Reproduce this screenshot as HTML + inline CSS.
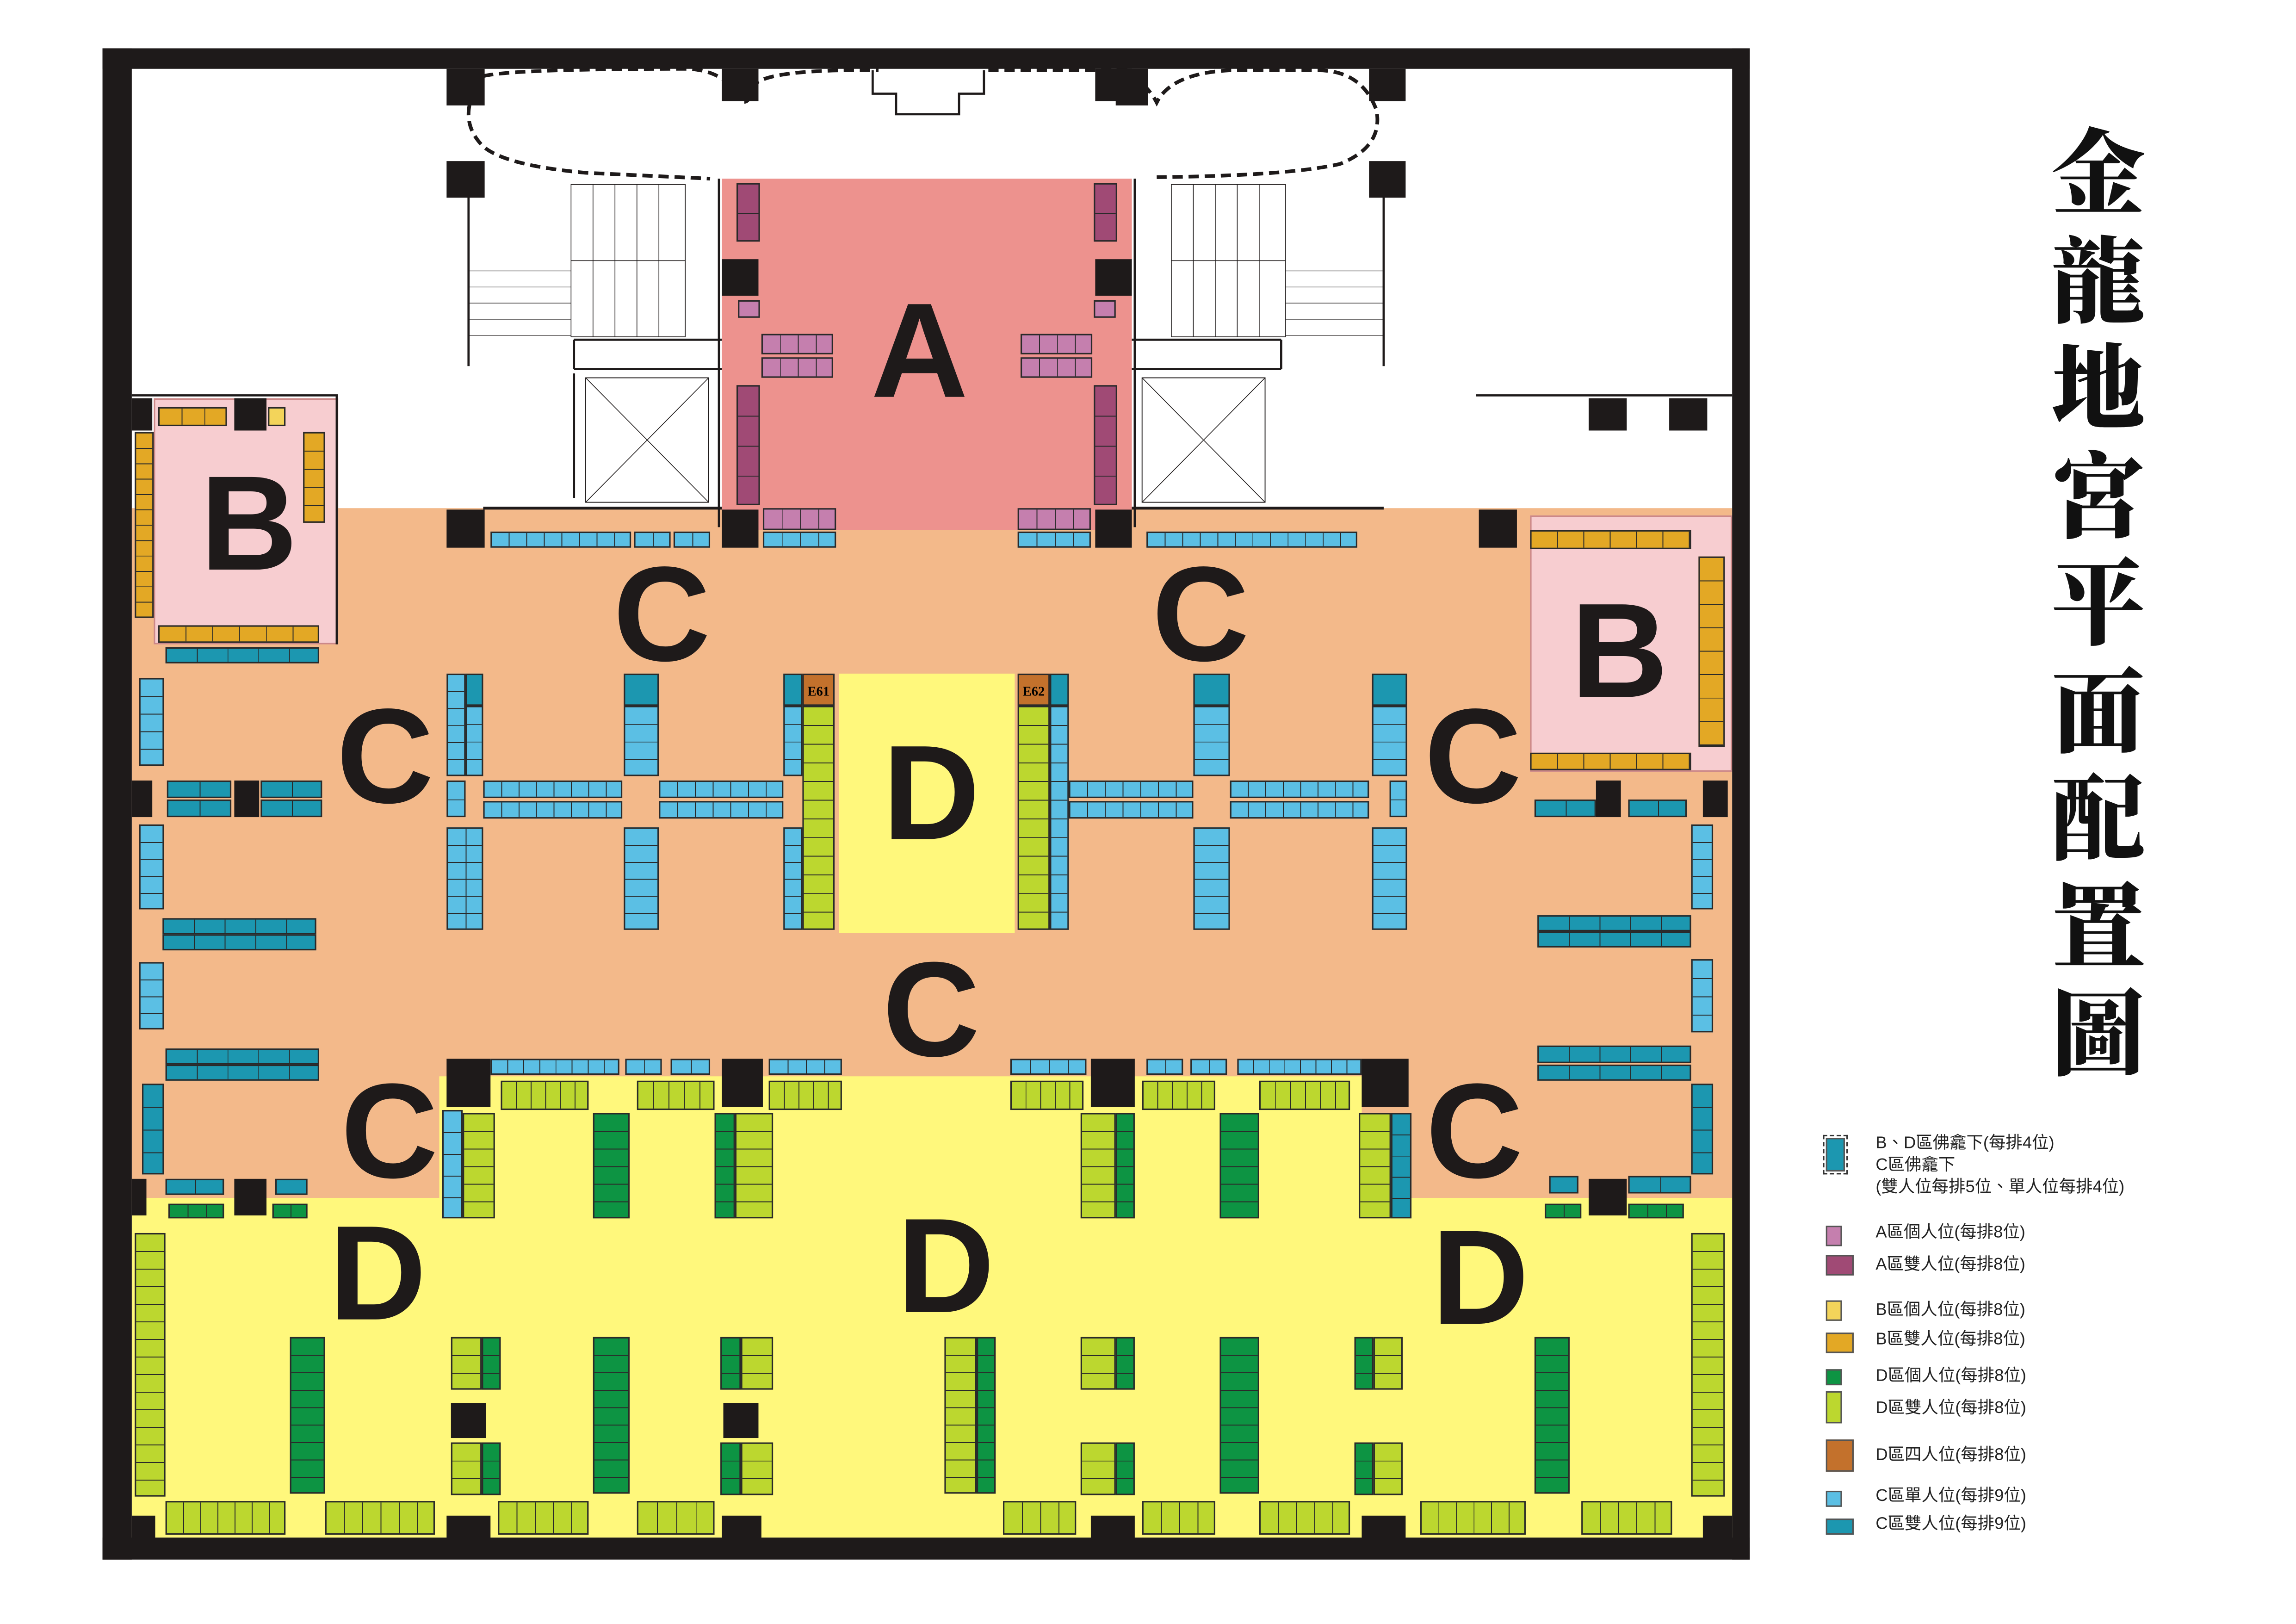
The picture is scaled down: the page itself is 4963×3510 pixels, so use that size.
<!DOCTYPE html>
<html><head><meta charset="utf-8">
<style>
html,body{margin:0;padding:0;background:#fff}
#w{position:relative;width:1568px;height:1109px;transform:scale(3.165);transform-origin:0 0;overflow:hidden;font-family:"Liberation Sans","Noto Sans CJK TC",sans-serif}
#w div,#w i{position:absolute;box-sizing:border-box}
.k{border:0.6px solid #2a2a2a}
.h{background-image:repeating-linear-gradient(90deg,transparent 0 calc(var(--s) - .6px),#2a2a2a calc(var(--s) - .6px) var(--s))}
.v{background-image:repeating-linear-gradient(180deg,transparent 0 calc(var(--s) - .6px),#2a2a2a calc(var(--s) - .6px) var(--s))}
.lb{background-color:#5bbfe4}.tl{background-color:#1c97b0}.pu{background-color:#a04a75}.mv{background-color:#c57fae}
.go{background-color:#e3a825}.yg{background-color:#f3d45a}.gr{background-color:#0d9443}.li{background-color:#bcd72f}.br{background-color:#c3712c}
.p{background:#1e1a1a}
.L{font-weight:bold;color:#1e1a1a;font-size:92px;line-height:1;transform:translate(-50%,-50%)}
.lg{font-size:11.5px;color:#222;white-space:nowrap;line-height:1.2}
.sw{border:0.6px solid #555}
</style></head><body><div id="w">
<!-- zones -->
<div style="left:90px;top:347px;width:1093px;height:390px;background:#f3b98a"></div>
<div style="left:90px;top:730px;width:212px;height:90px;background:#f3b98a"></div>
<div style="left:930px;top:730px;width:253px;height:90px;background:#f3b98a"></div>
<div style="left:300px;top:735px;width:630px;height:90px;background:#fff87c"></div>
<div style="left:90px;top:818px;width:1093px;height:232px;background:#fff87c"></div>
<div style="left:573px;top:460px;width:120px;height:177px;background:#fff87c"></div>
<div style="left:493px;top:122px;width:280px;height:240px;background:#ed928e"></div>
<div style="left:105px;top:272px;width:126px;height:168px;background:#f7cdd0;border:0.6px solid #c88"></div>
<div style="left:1045px;top:352px;width:138px;height:175px;background:#f7cdd0;border:0.6px solid #c88"></div>
<!-- frame -->
<div style="left:70px;top:33px;width:1125px;height:14px;background:#1e1a1a"></div>
<div style="left:70px;top:33px;width:20px;height:1032px;background:#1e1a1a"></div>
<div style="left:1183px;top:33px;width:12px;height:1032px;background:#1e1a1a"></div>
<div style="left:70px;top:1050px;width:1125px;height:15px;background:#1e1a1a"></div>
<!-- top structure -->
<svg style="position:absolute;left:0;top:0" width="1568" height="1109">
<path d="M330 52 Q310 80 330 100 Q345 113 400 118 L485 122 M330 52 Q350 47 470 47 Q490 48 500 60 Q510 80 515 58 Q525 47 600 48 M675 48 L770 48 Q785 60 790 70 Q800 50 840 48 L900 48 Q930 48 940 75 Q945 100 915 112 Q880 120 790 121" fill="none" stroke="#1e1a1a" stroke-width="2.5" stroke-dasharray="7 4"/>
<path d="M596 48 L596 64 L612 64 L612 78 L655 78 L655 64 L672 64 L672 48" fill="none" stroke="#1e1a1a" stroke-width="1.5"/>
<g stroke="#1e1a1a" fill="none">
<rect x="390" y="126" width="78" height="104" stroke-width="0.5"/>
<path d="M405 126V230M420 126V230M435 126V230M450 126V230M390 178H468" stroke-width="0.5"/>
<rect x="800" y="126" width="78" height="104" stroke-width="0.5"/>
<path d="M815 126V230M830 126V230M845 126V230M860 126V230M800 178H878" stroke-width="0.5"/>
<path d="M320 185H390M320 196H390M320 207H390M320 218H390M320 229H390" stroke-width="0.4"/>
<path d="M878 185H945M878 196H945M878 207H945M878 218H945M878 229H945" stroke-width="0.4"/>
<path d="M320 130V250M945 130V250" stroke-width="1.5"/>
<path d="M392 232H493M392 252H493M392 232V252M392 255V340" stroke-width="1.5"/>
<path d="M773 232H875M773 252H875M875 232V252" stroke-width="1.5"/>
<rect x="400" y="258" width="84" height="85" stroke-width="0.6"/><path d="M400 258L484 343M484 258L400 343" stroke-width="0.5"/>
<rect x="780" y="258" width="84" height="85" stroke-width="0.6"/><path d="M780 258L864 343M864 258L780 343" stroke-width="0.5"/>
<path d="M330 347H493M773 347H945" stroke-width="2"/>
<path d="M90 270H230V440" stroke-width="1.5"/>
<path d="M1008 270H1183" stroke-width="1.5"/>
<path d="M491 122V360M775 122V360" stroke-width="1.5"/>
</g>
</svg>
<!-- pillars -->
<i class="p" style="left:305px;top:47px;width:26px;height:25px"></i><i class="p" style="left:305px;top:110px;width:26px;height:25px"></i>
<i class="p" style="left:493px;top:47px;width:25px;height:22px"></i><i class="p" style="left:748px;top:47px;width:25px;height:22px"></i>
<i class="p" style="left:935px;top:47px;width:25px;height:22px"></i><i class="p" style="left:935px;top:110px;width:25px;height:25px"></i>
<i class="p" style="left:762px;top:47px;width:22px;height:25px"></i>
<i class="p" style="left:493px;top:177px;width:25px;height:25px"></i><i class="p" style="left:748px;top:177px;width:25px;height:25px"></i>
<i class="p" style="left:90px;top:272px;width:14px;height:22px"></i><i class="p" style="left:160px;top:272px;width:22px;height:22px"></i>
<i class="p" style="left:1085px;top:272px;width:26px;height:22px"></i><i class="p" style="left:1140px;top:272px;width:26px;height:22px"></i>
<i class="p" style="left:305px;top:348px;width:26px;height:26px"></i><i class="p" style="left:493px;top:348px;width:25px;height:26px"></i>
<i class="p" style="left:748px;top:348px;width:25px;height:26px"></i><i class="p" style="left:1010px;top:348px;width:26px;height:26px"></i>
<i class="p" style="left:90px;top:533px;width:14px;height:25px"></i><i class="p" style="left:160px;top:533px;width:17px;height:25px"></i>
<i class="p" style="left:1090px;top:533px;width:17px;height:25px"></i><i class="p" style="left:1163px;top:533px;width:17px;height:25px"></i>
<i class="p" style="left:305px;top:723px;width:30px;height:33px"></i><i class="p" style="left:493px;top:723px;width:28px;height:33px"></i>
<i class="p" style="left:745px;top:723px;width:30px;height:33px"></i><i class="p" style="left:930px;top:723px;width:32px;height:33px"></i>
<i class="p" style="left:160px;top:805px;width:22px;height:25px"></i><i class="p" style="left:1085px;top:805px;width:26px;height:25px"></i>
<i class="p" style="left:90px;top:805px;width:10px;height:25px"></i>
<i class="p" style="left:308px;top:958px;width:24px;height:24px"></i><i class="p" style="left:494px;top:958px;width:24px;height:24px"></i>
<i class="p" style="left:305px;top:1035px;width:30px;height:16px"></i><i class="p" style="left:493px;top:1035px;width:27px;height:16px"></i>
<i class="p" style="left:745px;top:1035px;width:30px;height:16px"></i><i class="p" style="left:930px;top:1035px;width:30px;height:16px"></i>
<i class="p" style="left:90px;top:1035px;width:16px;height:16px"></i><i class="p" style="left:1163px;top:1035px;width:20px;height:16px"></i>

<!-- A area -->
<i class="k v pu" style="left:503px;top:125px;width:16px;height:40px;--s:20px"></i>
<i class="k v pu" style="left:503px;top:263px;width:16px;height:82px;--s:20.5px"></i>
<i class="k v pu" style="left:747px;top:125px;width:16px;height:40px;--s:20px"></i>
<i class="k v pu" style="left:747px;top:263px;width:16px;height:82px;--s:20.5px"></i>
<i class="k mv" style="left:504px;top:205px;width:15px;height:12px"></i><i class="k mv" style="left:747px;top:205px;width:15px;height:12px"></i>
<i class="k h mv" style="left:520px;top:228px;width:49px;height:14px;--s:12.25px"></i><i class="k h mv" style="left:520px;top:244px;width:49px;height:14px;--s:12.25px"></i>
<i class="k h mv" style="left:697px;top:228px;width:49px;height:14px;--s:12.25px"></i><i class="k h mv" style="left:697px;top:244px;width:49px;height:14px;--s:12.25px"></i>
<i class="k h mv" style="left:521px;top:347px;width:50px;height:15px;--s:12.5px"></i><i class="k h lb" style="left:521px;top:363px;width:50px;height:11px;--s:12.5px"></i>
<i class="k h mv" style="left:695px;top:347px;width:50px;height:15px;--s:12.5px"></i><i class="k h lb" style="left:695px;top:363px;width:50px;height:11px;--s:12.5px"></i>
<i class="k h lb" style="left:335px;top:363px;width:96px;height:11px;--s:12px"></i><i class="k h lb" style="left:433px;top:363px;width:25px;height:11px;--s:12.5px"></i><i class="k h lb" style="left:460px;top:363px;width:25px;height:11px;--s:12.5px"></i>
<i class="k h lb" style="left:783px;top:363px;width:144px;height:11px;--s:12px"></i>
<!-- B left -->
<i class="k h go" style="left:108px;top:278px;width:47px;height:13px;--s:15.6px"></i><i class="k yg" style="left:183px;top:278px;width:12px;height:13px"></i>
<i class="k v go" style="left:92px;top:295px;width:13px;height:127px;--s:10.5px"></i>
<i class="k v go" style="left:207px;top:295px;width:15px;height:62px;--s:12.4px"></i>
<i class="k h go" style="left:108px;top:427px;width:110px;height:12px;--s:18.3px"></i>
<i class="k h tl" style="left:113px;top:442px;width:105px;height:11px;--s:21px"></i>
<!-- B right -->
<i class="k h go" style="left:1045px;top:362px;width:110px;height:13px;--s:18px"></i>
<i class="k v go" style="left:1160px;top:380px;width:18px;height:130px;--s:16px"></i>
<i class="k h go" style="left:1045px;top:514px;width:110px;height:12px;--s:18px"></i>
<!-- C left side -->
<i class="k v lb" style="left:95px;top:463px;width:17px;height:60px;--s:12px"></i>
<i class="k h tl" style="left:114px;top:533px;width:44px;height:12px;--s:22px"></i><i class="k h tl" style="left:114px;top:546px;width:44px;height:12px;--s:22px"></i>
<i class="k h tl" style="left:178px;top:533px;width:42px;height:12px;--s:21px"></i><i class="k h tl" style="left:178px;top:546px;width:42px;height:12px;--s:21px"></i>
<i class="k v lb" style="left:95px;top:563px;width:17px;height:58px;--s:11.6px"></i>
<i class="k h tl" style="left:111px;top:627px;width:105px;height:11px;--s:21px"></i><i class="k h tl" style="left:111px;top:638px;width:105px;height:11px;--s:21px"></i>
<i class="k v lb" style="left:95px;top:657px;width:17px;height:46px;--s:11.5px"></i>
<i class="k h tl" style="left:113px;top:716px;width:105px;height:11px;--s:21px"></i><i class="k h tl" style="left:113px;top:727px;width:105px;height:11px;--s:21px"></i>
<i class="k v tl" style="left:97px;top:740px;width:15px;height:62px;--s:15.5px"></i>
<i class="k h tl" style="left:113px;top:805px;width:40px;height:11px;--s:20px"></i><i class="k tl" style="left:188px;top:805px;width:22px;height:11px"></i>
<i class="k h gr" style="left:115px;top:822px;width:38px;height:10px;--s:12.7px"></i><i class="k h gr" style="left:186px;top:822px;width:24px;height:10px;--s:12px"></i>
<!-- C right side -->
<i class="k h tl" style="left:1048px;top:546px;width:42px;height:12px;--s:21px"></i><i class="k h tl" style="left:1112px;top:546px;width:40px;height:12px;--s:20px"></i>
<i class="k v lb" style="left:1155px;top:563px;width:15px;height:58px;--s:11.6px"></i>
<i class="k h tl" style="left:1050px;top:625px;width:105px;height:11px;--s:21px"></i><i class="k h tl" style="left:1050px;top:636px;width:105px;height:11px;--s:21px"></i>
<i class="k v lb" style="left:1155px;top:655px;width:15px;height:50px;--s:12.5px"></i>
<i class="k h tl" style="left:1050px;top:714px;width:105px;height:12px;--s:21px"></i><i class="k h tl" style="left:1050px;top:727px;width:105px;height:11px;--s:21px"></i>
<i class="k v tl" style="left:1155px;top:740px;width:15px;height:62px;--s:15.5px"></i>
<i class="k tl" style="left:1058px;top:803px;width:20px;height:12px"></i><i class="k h tl" style="left:1112px;top:803px;width:43px;height:12px;--s:21.5px"></i>
<i class="k h gr" style="left:1055px;top:822px;width:25px;height:10px;--s:12.5px"></i><i class="k h gr" style="left:1112px;top:822px;width:38px;height:10px;--s:12.7px"></i>
<!-- C middle columns -->
<i class="k v lb" style="left:305px;top:460px;width:13px;height:70px;--s:11.6px"></i><i class="k tl" style="left:318px;top:460px;width:12px;height:22px"></i><i class="k v lb" style="left:318px;top:482px;width:12px;height:48px;--s:12px"></i>
<i class="k v lb" style="left:305px;top:533px;width:13px;height:25px;--s:12.5px"></i>
<i class="k h lb" style="left:330px;top:533px;width:95px;height:12px;--s:11.9px"></i><i class="k h lb" style="left:330px;top:547px;width:95px;height:12px;--s:11.9px"></i>
<i class="k v lb" style="left:305px;top:565px;width:25px;height:70px;--s:11.6px;background-image:repeating-linear-gradient(180deg,transparent 0 11px,#2a2a2a 11px 11.6px),linear-gradient(90deg,transparent 12px,#2a2a2a 12px 12.6px,transparent 12.6px)"></i>
<i class="k tl" style="left:426px;top:460px;width:24px;height:22px"></i><i class="k v lb" style="left:426px;top:482px;width:24px;height:48px;--s:12px"></i>
<i class="k v lb" style="left:426px;top:565px;width:24px;height:70px;--s:11.6px"></i>
<i class="k h lb" style="left:450px;top:533px;width:85px;height:12px;--s:12.1px"></i><i class="k h lb" style="left:450px;top:547px;width:85px;height:12px;--s:12.1px"></i>
<i class="k tl" style="left:535px;top:460px;width:13px;height:22px"></i><i class="k v lb" style="left:535px;top:482px;width:13px;height:48px;--s:12px"></i>
<i class="k br" style="left:548px;top:460px;width:22px;height:22px;font:bold 9px 'Liberation Serif',serif;text-align:center;line-height:22px">E61</i>
<i class="k v li" style="left:548px;top:482px;width:22px;height:153px;--s:12.75px"></i>
<i class="k v lb" style="left:535px;top:565px;width:13px;height:70px;--s:11.6px"></i>
<i class="k br" style="left:695px;top:460px;width:22px;height:22px;font:bold 9px 'Liberation Serif',serif;text-align:center;line-height:22px">E62</i>
<i class="k v li" style="left:695px;top:482px;width:22px;height:153px;--s:12.75px"></i>
<i class="k tl" style="left:717px;top:460px;width:13px;height:22px"></i><i class="k v lb" style="left:717px;top:482px;width:13px;height:153px;--s:12.75px"></i>
<i class="k h lb" style="left:730px;top:533px;width:85px;height:12px;--s:12.1px"></i><i class="k h lb" style="left:730px;top:547px;width:85px;height:12px;--s:12.1px"></i>
<i class="k tl" style="left:815px;top:460px;width:25px;height:22px"></i><i class="k v lb" style="left:815px;top:482px;width:25px;height:48px;--s:12px"></i>
<i class="k v lb" style="left:815px;top:565px;width:25px;height:70px;--s:11.6px"></i>
<i class="k h lb" style="left:840px;top:533px;width:95px;height:12px;--s:11.9px"></i><i class="k h lb" style="left:840px;top:547px;width:95px;height:12px;--s:11.9px"></i>
<i class="k tl" style="left:937px;top:460px;width:24px;height:22px"></i><i class="k v lb" style="left:937px;top:482px;width:24px;height:48px;--s:12px"></i>
<i class="k v lb" style="left:949px;top:533px;width:12px;height:25px;--s:12.5px"></i>
<i class="k v lb" style="left:937px;top:565px;width:24px;height:70px;--s:11.6px"></i>
<!-- row at 723 -->
<i class="k h lb" style="left:335px;top:723px;width:88px;height:11px;--s:11px"></i><i class="k h lb" style="left:427px;top:723px;width:25px;height:11px;--s:12.5px"></i><i class="k h lb" style="left:458px;top:723px;width:27px;height:11px;--s:13.5px"></i>
<i class="k h lb" style="left:525px;top:723px;width:50px;height:11px;--s:12.5px"></i>
<i class="k h lb" style="left:690px;top:723px;width:52px;height:11px;--s:13px"></i>
<i class="k h lb" style="left:783px;top:723px;width:25px;height:11px;--s:12.5px"></i><i class="k h lb" style="left:813px;top:723px;width:25px;height:11px;--s:12.5px"></i>
<i class="k h lb" style="left:845px;top:723px;width:85px;height:11px;--s:10.6px"></i>
<!-- D upper -->
<i class="k h li" style="left:342px;top:738px;width:60px;height:20px;--s:10px"></i>
<i class="k h li" style="left:435px;top:738px;width:53px;height:20px;--s:10.6px"></i>
<i class="k h li" style="left:525px;top:738px;width:50px;height:20px;--s:10px"></i>
<i class="k h li" style="left:690px;top:738px;width:50px;height:20px;--s:10px"></i>
<i class="k h li" style="left:780px;top:738px;width:50px;height:20px;--s:10px"></i>
<i class="k h li" style="left:860px;top:738px;width:62px;height:20px;--s:10.3px"></i>
<i class="k v lb" style="left:302px;top:758px;width:14px;height:74px;--s:14.8px"></i>
<i class="k v li" style="left:316px;top:760px;width:22px;height:72px;--s:12px"></i>
<i class="k v gr" style="left:405px;top:760px;width:25px;height:72px;--s:12px"></i>
<i class="k v gr" style="left:488px;top:760px;width:14px;height:72px;--s:12px"></i><i class="k v li" style="left:502px;top:760px;width:26px;height:72px;--s:12px"></i>
<i class="k v li" style="left:738px;top:760px;width:24px;height:72px;--s:12px"></i><i class="k v gr" style="left:762px;top:760px;width:13px;height:72px;--s:12px"></i>
<i class="k v gr" style="left:833px;top:760px;width:27px;height:72px;--s:12px"></i>
<i class="k v li" style="left:928px;top:760px;width:22px;height:72px;--s:12px"></i><i class="k v tl" style="left:950px;top:760px;width:14px;height:72px;--s:14.4px"></i>
<!-- D bottom -->
<i class="k v li" style="left:92px;top:842px;width:21px;height:180px;--s:12px"></i>
<i class="k v li" style="left:1155px;top:842px;width:23px;height:180px;--s:12px"></i>
<i class="k v gr" style="left:198px;top:913px;width:24px;height:107px;--s:11.9px"></i>
<i class="k v li" style="left:308px;top:913px;width:21px;height:36px;--s:12px"></i><i class="k v gr" style="left:329px;top:913px;width:13px;height:36px;--s:12px"></i>
<i class="k v li" style="left:308px;top:985px;width:21px;height:36px;--s:12px"></i><i class="k v gr" style="left:329px;top:985px;width:13px;height:36px;--s:12px"></i>
<i class="k v gr" style="left:405px;top:913px;width:25px;height:107px;--s:11.9px"></i>
<i class="k v gr" style="left:492px;top:913px;width:14px;height:36px;--s:12px"></i><i class="k v li" style="left:506px;top:913px;width:22px;height:36px;--s:12px"></i>
<i class="k v gr" style="left:492px;top:985px;width:14px;height:36px;--s:12px"></i><i class="k v li" style="left:506px;top:985px;width:22px;height:36px;--s:12px"></i>
<i class="k v li" style="left:645px;top:913px;width:22px;height:107px;--s:11.9px"></i><i class="k v gr" style="left:667px;top:913px;width:13px;height:107px;--s:11.9px"></i>
<i class="k v li" style="left:738px;top:913px;width:24px;height:36px;--s:12px"></i><i class="k v gr" style="left:762px;top:913px;width:13px;height:36px;--s:12px"></i>
<i class="k v li" style="left:738px;top:985px;width:24px;height:36px;--s:12px"></i><i class="k v gr" style="left:762px;top:985px;width:13px;height:36px;--s:12px"></i>
<i class="k v gr" style="left:833px;top:913px;width:27px;height:107px;--s:11.9px"></i>
<i class="k v gr" style="left:925px;top:913px;width:13px;height:36px;--s:12px"></i><i class="k v li" style="left:938px;top:913px;width:20px;height:36px;--s:12px"></i>
<i class="k v gr" style="left:925px;top:985px;width:13px;height:36px;--s:12px"></i><i class="k v li" style="left:938px;top:985px;width:20px;height:36px;--s:12px"></i>
<i class="k v gr" style="left:1048px;top:913px;width:24px;height:107px;--s:11.9px"></i>
<i class="k h li" style="left:113px;top:1025px;width:82px;height:23px;--s:11.7px"></i>
<i class="k h li" style="left:222px;top:1025px;width:75px;height:23px;--s:12.5px"></i>
<i class="k h li" style="left:340px;top:1025px;width:62px;height:23px;--s:12.4px"></i>
<i class="k h li" style="left:435px;top:1025px;width:53px;height:23px;--s:13.25px"></i>
<i class="k h li" style="left:685px;top:1025px;width:50px;height:23px;--s:12.5px"></i>
<i class="k h li" style="left:780px;top:1025px;width:50px;height:23px;--s:12.5px"></i>
<i class="k h li" style="left:860px;top:1025px;width:62px;height:23px;--s:12.4px"></i>
<i class="k h li" style="left:970px;top:1025px;width:72px;height:23px;--s:12px"></i>
<i class="k h li" style="left:1080px;top:1025px;width:62px;height:23px;--s:12.4px"></i>
<!-- letters -->
<div class="L" style="left:628px;top:240px">A</div>
<div class="L" style="left:170px;top:358px">B</div>
<div class="L" style="left:1106px;top:445px">B</div>
<div class="L" style="left:452px;top:420px">C</div>
<div class="L" style="left:820px;top:420px">C</div>
<div class="L" style="left:263px;top:517px">C</div>
<div class="L" style="left:1006px;top:517px">C</div>
<div class="L" style="left:636px;top:690px">C</div>
<div class="L" style="left:266px;top:773px">C</div>
<div class="L" style="left:1007px;top:773px">C</div>
<div class="L" style="left:636px;top:542px">D</div>
<div class="L" style="left:258px;top:870px">D</div>
<div class="L" style="left:646px;top:865px">D</div>
<div class="L" style="left:1011px;top:873px">D</div>
<!-- title -->
<div style="left:1398px;top:78px;width:70px;font-family:'Noto Serif CJK SC','Noto Sans CJK TC',serif;font-weight:900;font-size:64px;line-height:73.5px;text-align:center;color:#111">金<br>龍<br>地<br>宮<br>平<br>面<br>配<br>置<br>圖</div>
<!-- legend -->
<i class="sw tl" style="left:1247px;top:777px;width:13px;height:23px;outline:0.6px dashed #333;outline-offset:1px"></i>
<div class="lg" style="left:1281px;top:775px">B、D區佛龕下(每排4位)</div>
<div class="lg" style="left:1281px;top:790px">C區佛龕下</div>
<div class="lg" style="left:1281px;top:805px">(雙人位每排5位、單人位每排4位)</div>
<i class="sw mv" style="left:1247px;top:837px;width:11px;height:14px"></i><div class="lg" style="left:1281px;top:836px">A區個人位(每排8位)</div>
<i class="sw pu" style="left:1247px;top:857px;width:19px;height:14px"></i><div class="lg" style="left:1281px;top:858px">A區雙人位(每排8位)</div>
<i class="sw yg" style="left:1247px;top:888px;width:11px;height:14px"></i><div class="lg" style="left:1281px;top:889px">B區個人位(每排8位)</div>
<i class="sw go" style="left:1247px;top:910px;width:19px;height:14px"></i><div class="lg" style="left:1281px;top:909px">B區雙人位(每排8位)</div>
<i class="sw gr" style="left:1247px;top:935px;width:11px;height:11px"></i><div class="lg" style="left:1281px;top:934px">D區個人位(每排8位)</div>
<i class="sw li" style="left:1247px;top:950px;width:11px;height:22px"></i><div class="lg" style="left:1281px;top:956px">D區雙人位(每排8位)</div>
<i class="sw br" style="left:1247px;top:983px;width:19px;height:22px"></i><div class="lg" style="left:1281px;top:988px">D區四人位(每排8位)</div>
<i class="sw lb" style="left:1247px;top:1018px;width:11px;height:11px"></i><div class="lg" style="left:1281px;top:1016px">C區單人位(每排9位)</div>
<i class="sw tl" style="left:1247px;top:1037px;width:19px;height:11px"></i><div class="lg" style="left:1281px;top:1035px">C區雙人位(每排9位)</div>
</div></body></html>
